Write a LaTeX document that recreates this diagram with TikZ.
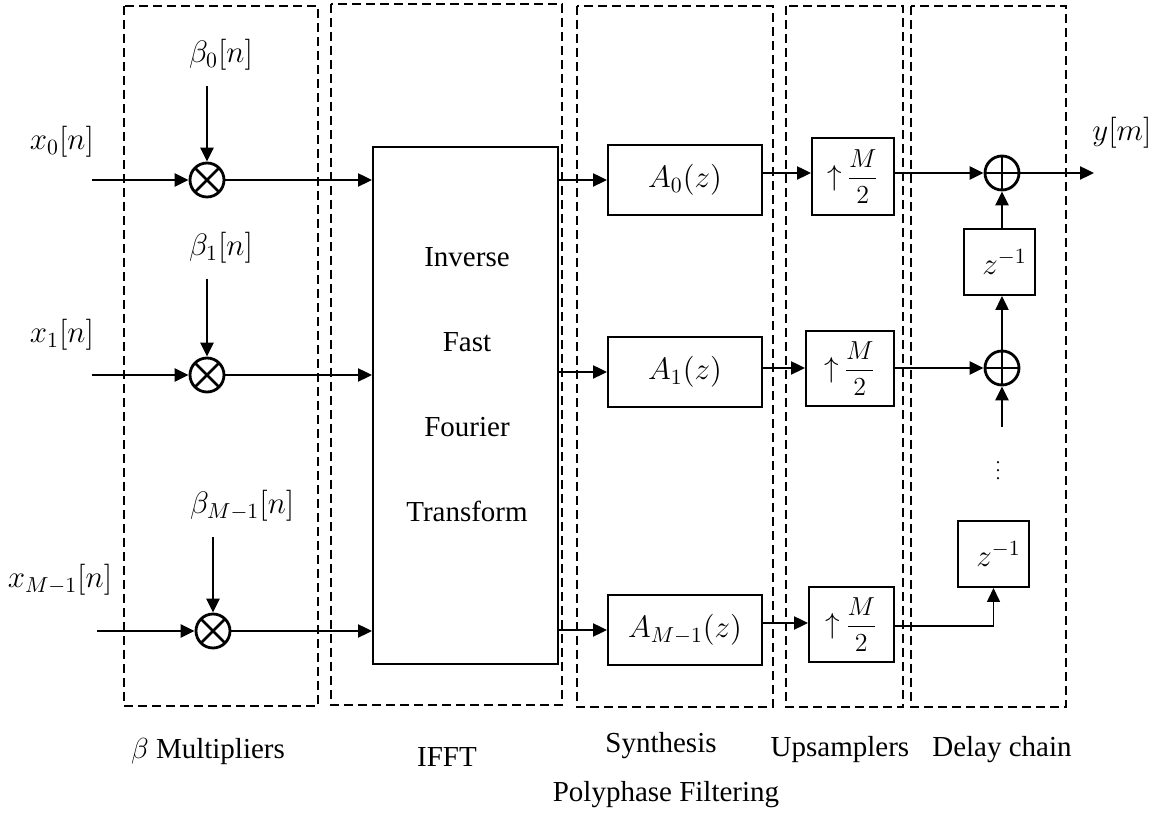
\RequirePackage{fix-cm}
\documentclass[tikz,border=0pt]{standalone}
\usepackage[no-math]{fontspec}
\setmainfont{Liberation Serif}
\usetikzlibrary{arrows.meta,calc}
\newcommand{\upby}{$\uparrow$\,{\fontsize{13}{14}\selectfont$\displaystyle\frac{M}{2}$}}
\begin{document}
\begin{tikzpicture}[x=0.5pt,y=-0.5pt,
  every node/.style={font=\fontsize{14.5}{17}\selectfont},
  arr/.style={-{Triangle[length=7pt,width=6.5pt]}, line width=1.2pt},
  arrthin/.style={-{Triangle[length=7pt,width=6.5pt]}, line width=0.8pt},
  blk/.style={draw, line width=1pt, inner sep=0pt},
  grp/.style={draw, line width=0.75pt, dash pattern=on 4.5pt off 2.5pt},
  mulx/.style={circle, draw, line width=1.4pt, minimum size=17pt, inner sep=0pt,
    path picture={\draw[line width=1.4pt]
      (path picture bounding box.north west) -- (path picture bounding box.south east)
      (path picture bounding box.north east) -- (path picture bounding box.south west);}},
  addr/.style={circle, draw, line width=1.4pt, minimum size=17pt, inner sep=0pt,
    path picture={\draw[line width=1.4pt]
      (path picture bounding box.north) -- (path picture bounding box.south)
      (path picture bounding box.west) -- (path picture bounding box.east);}},
  mth/.style={font=\fontsize{15.5}{18}\selectfont},
]
\useasboundingbox (0,0) rectangle (1168,817);

% stage frames
\draw[grp] (124,6) rectangle (318,706);
\draw[grp] (331,4) rectangle (562,705);
\draw[grp] (577,6) rectangle (773,707);
\draw[grp] (786,6) rectangle (903,707);
\draw[grp] (911,6) rectangle (1066,707);

% input labels and weights
\node[mth] (x0) at (62,142) {$x_0[n]$};
\node[mth] (x1) at (62,335) {$x_1[n]$};
\node[mth] (xM) at (60,580) {$x_{M-1}[n]$};
\node[mth, anchor=west] (b0) at (182,55) {$\beta_0[n]$};
\node[mth, anchor=west] (b1) at (182,248) {$\beta_1[n]$};
\node[mth, anchor=west] (bM) at (183,506) {$\beta_{M-1}[n]$};

% multipliers
\node[mulx] (m0) at (207,180) {};
\node[mulx] (m1) at (207,375) {};
\node[mulx] (mM) at (213,631) {};

\coordinate (i0) at (92,180);
\coordinate (i1) at (92,375);
\coordinate (iM) at (97,631);
\coordinate (s0) at (207,86);
\coordinate (s1) at (207,279);
\coordinate (sM) at (213,537);

% IFFT block
\node[blk, minimum width=92.5pt, minimum height=258.5pt] (ifft) at (465.5,405.5) {};
\node[align=center, font=\fontsize{14.5}{42.5}\selectfont] (ifftT) at (467,384.5)
  {Inverse\\Fast\\Fourier\\Transform};

% polyphase filters
\node[blk, mth, minimum width=77pt, minimum height=35pt] (a0) at (685,180) {$A_0(z)$};
\node[blk, mth, minimum width=77pt, minimum height=35pt] (a1) at (685,372) {$A_1(z)$};
\node[blk, mth, minimum width=77pt, minimum height=35pt] (aM) at (685,630) {$A_{M-1}(z)$};

% upsamplers
\node[blk, minimum width=41pt, minimum height=38.5pt] (u0) at (853,176.5) {\upby};
\node[blk, minimum width=44pt, minimum height=37.5pt] (u1) at (850,368.5) {\upby};
\node[blk, minimum width=42.5pt, minimum height=37.5pt] (uM) at (851.5,624.5) {\upby};

% delay chain
\node[addr] (p0) at (1002,173) {};
\node[addr] (p1) at (1002,368) {};
\node[blk, mth, minimum width=35.5pt, minimum height=33pt] (z1) at (999.5,262) {\hspace*{5pt}$z^{-1}$};
\node[blk, mth, minimum width=35.5pt, minimum height=33pt] (z2) at (993.5,554) {\hspace*{5pt}$z^{-1}$};
\node[font=\fontsize{9}{10}\selectfont, inner sep=0pt] (dots) at (998,465) {$\vdots$};
\coordinate (dIn) at (1002,427);
\coordinate (yout) at (1094,173);
\node[mth] (ylab) at (1122,133) {$y[m]$};

% stage captions
\node (capB) at (208,752) {$\beta$ Multipliers};
\node (capI) at (447,757) {IFFT};
\node (capS) at (661,746) {Synthesis};
\node (capU) at (840,750) {Upsamplers};
\node (capD) at (1002,750) {Delay chain};
\node (capP) at (666,795) {Polyphase Filtering};

% connections: weighting
\draw[arr] (i0) -- (m0);
\draw[arr] (i1) -- (m1);
\draw[arr] (iM) -- (mM);
\draw[arr] (s0) -- (m0);
\draw[arr] (s1) -- (m1);
\draw[arr] (sM) -- (mM);
\draw[arr] (m0) -- (ifft.west |- m0);
\draw[arr] (m1) -- (ifft.west |- m1);
\draw[arr] (mM) -- (ifft.west |- mM);

% connections: IFFT to filters
\draw[arr] (ifft.east |- a0) -- (a0);
\draw[arr] (ifft.east |- a1) -- (a1);
\draw[arr] (ifft.east |- aM) -- (aM);

% connections: filters to upsamplers
\coordinate (rM) at (0,623);
\draw[arr] (a0.east |- p0) -- (u0.west |- p0);
\draw[arr] (a1.east |- p1) -- (u1.west |- p1);
\draw[arr] (aM.east |- rM) -- (uM.west |- rM);

% connections: delay chain
\coordinate (cM) at (993.5,626);
\draw[arr] (u0.east |- p0) -- (p0);
\draw[arr] (u1.east |- p1) -- (p1);
\draw[arrthin] (uM.east |- cM) -| (z2.south);
\draw[arr] (p0) -- (yout);
\draw[arr] (p0 |- z1.north) -- (p0);
\draw[arr] (p1) -- (p1 |- z1.south);
\draw[arr] (dIn) -- (p1);
\end{tikzpicture}
\end{document}
